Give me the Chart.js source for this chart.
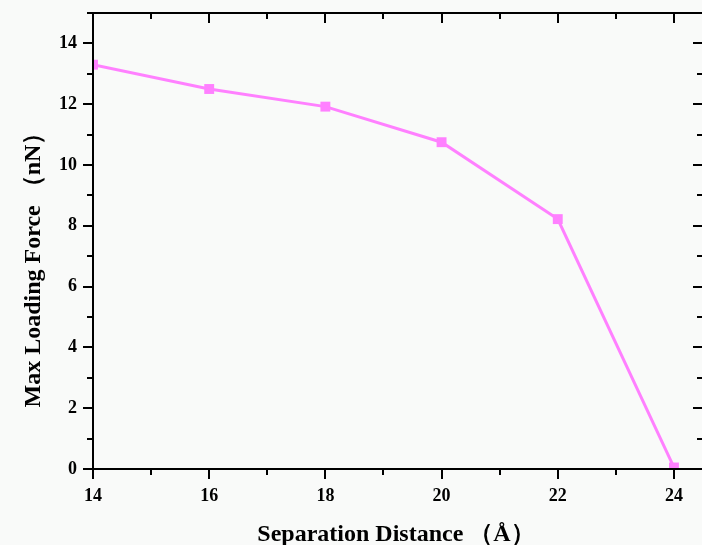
<!DOCTYPE html>
<html>
<head>
<meta charset="utf-8">
<script src="https://cdn.jsdelivr.net/npm/chart.js@4/dist/chart.umd.min.js"></script>
<style>
  html, body { margin: 0; padding: 0; background: #f9faf9; overflow: hidden; }
  canvas { display: block; }
</style>
</head>
<body>
<canvas id="chart" width="710" height="545"></canvas>
<script>
// separation distance (Å) vs max loading force (nN)
const distances = [14, 16, 18, 20, 22, 24];
const maxForce = [13.3, 12.5, 11.92, 10.75, 8.22, 0.05];

const LINE_COLOR = '#ff80ff';
const FONT = '"Liberation Serif", "Times New Roman", serif';

// frame + inward/outward ticks (major and minor) drawn from the scales
const frameTicks = {
  id: 'frameTicks',
  afterDraw(chart) {
    const { ctx, chartArea: a } = chart;
    const xs = chart.scales.x, ys = chart.scales.y;
    ctx.save();
    ctx.strokeStyle = '#000';
    ctx.lineWidth = 2;
    ctx.beginPath();
    ctx.rect(a.left, a.top, a.right - a.left, a.bottom - a.top);
    ctx.stroke();

    ctx.beginPath();
    for (let v = 14; v <= 24.5; v += 1) {
      const px = Math.round(xs.getPixelForValue(v));
      const len = v % 2 === 0 ? 10 : 6;
      ctx.moveTo(px, a.bottom); ctx.lineTo(px, a.bottom + len);
      ctx.moveTo(px, a.top); ctx.lineTo(px, a.top + len);
    }
    for (let v = 0; v <= 15; v += 1) {
      const py = Math.round(ys.getPixelForValue(v));
      const len = v % 2 === 0 ? 10 : 6;
      ctx.moveTo(a.left, py); ctx.lineTo(a.left - len, py);
      ctx.moveTo(a.right, py); ctx.lineTo(a.right - len, py);
    }
    ctx.stroke();

    // axis titles
    ctx.fillStyle = '#000';
    ctx.font = 'bold 24px ' + FONT;
    ctx.textAlign = 'center';
    ctx.textBaseline = 'alphabetic';
    ctx.fillText('Separation Distance （Å）', 396, 541);
    ctx.translate(40, 264);
    ctx.rotate(-Math.PI / 2);
    ctx.fillText('Max Loading Force （nN）', 0, 0);
    ctx.restore();
  }
};

new Chart(document.getElementById('chart'), {
  type: 'line',
  data: {
    labels: distances,
    datasets: [{
      data: distances.map((d, i) => ({ x: d, y: maxForce[i] })),
      borderColor: LINE_COLOR,
      backgroundColor: LINE_COLOR,
      borderWidth: 3,
      pointStyle: 'rect',
      pointRadius: 7,
      pointHoverRadius: 7,
      pointBorderWidth: 0,
      tension: 0,
      clip: 0
    }]
  },
  options: {
    responsive: false,
    animation: false,
    events: [],
    layout: { padding: { top: 13, left: 0, right: 0, bottom: 0 } },
    plugins: { legend: { display: false }, tooltip: { enabled: false } },
    scales: {
      x: {
        type: 'linear',
        min: 14,
        max: 24.5,
        grid: { display: false, drawTicks: false },
        border: { display: false },
        ticks: {
          stepSize: 2,
          includeBounds: false,
          padding: 17,
          color: '#000',
          font: { family: FONT, size: 18, weight: 'bold' }
        },
        afterFit(scale) {
          scale.height = 76;
          scale.paddingLeft = 0;
          scale.paddingRight = 0;
        }
      },
      y: {
        min: 0,
        max: 15,
        grid: { display: false, drawTicks: false },
        border: { display: false },
        ticks: {
          stepSize: 2,
          includeBounds: false,
          padding: 16,
          color: '#000',
          font: { family: FONT, size: 18, weight: 'bold' }
        },
        afterFit(scale) {
          scale.width = 93;
          scale.paddingTop = 0;
          scale.paddingBottom = 0;
        }
      }
    }
  },
  plugins: [frameTicks]
});
</script>
</body>
</html>
